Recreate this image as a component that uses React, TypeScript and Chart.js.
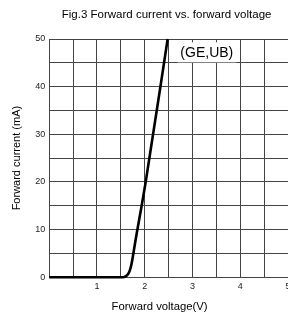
import React, { useEffect, useRef } from 'react';
import { Chart, registerables } from 'chart.js';

Chart.register(...registerables);

const chartTitle = 'Fig.3 Forward current vs. forward voltage';
const xTitle = 'Forward voltage(V)';
const yTitle = 'Forward current (mA)';
const curveLabel = '(GE,UB)';
const curveLabelAt = [3.3, 47.2];

const voltage = [0, 1.0, 1.55, 1.62, 1.68, 1.72, 1.8, 2.02, 2.48];
const current = [0, 0, 0, 0.3, 1.2, 2.6, 7.3, 20, 50];

const xMin = 0, xMax = 5, xStep = 0.5;
const yMin = 0, yMax = 50, yStep = 5;
const xTickLabels = [1, 2, 3, 4, 5];
const yTickLabels = [0, 10, 20, 30, 40, 50];

const FONT = "'Liberation Sans', Arial, sans-serif";

const textPlugin = {
  id: 'texts',
  afterDatasetsDraw(chart: any) {
    const { ctx, scales, chartArea } = chart;
    ctx.save();
    // curve label with white box
    const px = scales.x.getPixelForValue(curveLabelAt[0]);
    const py = scales.y.getPixelForValue(curveLabelAt[1]);
    ctx.font = `14px ${FONT}`;
    const w = ctx.measureText(curveLabel).width;
    ctx.fillStyle = '#ffffff';
    ctx.fillRect(px - w / 2 - 3, py - 10, w + 6, 20);
    ctx.fillStyle = '#000000';
    ctx.textAlign = 'center';
    ctx.textBaseline = 'middle';
    ctx.fillText(curveLabel, px, py + 1);
    // chart title
    const cx = (chartArea.left + chartArea.right) / 2;
    ctx.font = `11.5px ${FONT}`;
    ctx.fillText(chartTitle, cx - 2, chartArea.top - 24);
    // x axis title
    ctx.font = `11.3px ${FONT}`;
    ctx.fillText(xTitle, cx - 9, chartArea.bottom + 30);
    ctx.restore();
  },
};

export default function App() {
  const ref = useRef<HTMLCanvasElement | null>(null);
  useEffect(() => {
    if (!ref.current) return;
    const chart = new Chart(ref.current, {
      type: 'scatter',
      data: {
        datasets: [
          {
            data: voltage.map((v, i) => ({ x: v, y: current[i] })),
            showLine: true,
            borderColor: '#000000',
            borderWidth: 2.6,
            pointRadius: 0,
            cubicInterpolationMode: 'monotone',
            clip: false,
          } as any,
        ],
      },
      options: {
        responsive: false,
        animation: false,
        devicePixelRatio: 1,
        layout: { padding: { left: 4, right: 46, top: 39, bottom: 20 } },
        plugins: {
          legend: { display: false },
          tooltip: { enabled: false },
          title: { display: false },
        },
        scales: {
          x: {
            type: 'linear',
            min: xMin,
            max: xMax,
            grid: { color: '#444', lineWidth: 1, drawTicks: false },
            border: { color: '#444', width: 1 },
            ticks: {
              stepSize: xStep,
              color: '#222',
              padding: 4,
              maxRotation: 0,
              autoSkip: false,
              font: { family: FONT, size: 9 },
              callback: (v: any) => (xTickLabels.includes(Number(v)) ? String(v) : ''),
            },
          },
          y: {
            type: 'linear',
            min: yMin,
            max: yMax,
            grid: { color: '#444', lineWidth: 1, drawTicks: false },
            border: { color: '#444', width: 1 },
            ticks: {
              stepSize: yStep,
              color: '#222',
              padding: 4,
              autoSkip: false,
              font: { family: FONT, size: 9 },
              callback: (v: any) => (yTickLabels.includes(Number(v)) ? String(v) : ''),
            },
            title: {
              display: true,
              text: yTitle,
              color: '#000',
              font: { family: FONT, size: 11 },
              padding: { top: 6, bottom: 8 },
            },
          },
        },
      },
      plugins: [textPlugin],
    });
    return () => chart.destroy();
  }, []);

  return (
    <div style={{ position: 'fixed', left: 0, top: 0, width: 288, height: 316, overflow: 'hidden', background: '#fff' }}>
      <canvas ref={ref} width={334} height={316} style={{ display: 'block', width: 334, height: 316 }} />
    </div>
  );
}
